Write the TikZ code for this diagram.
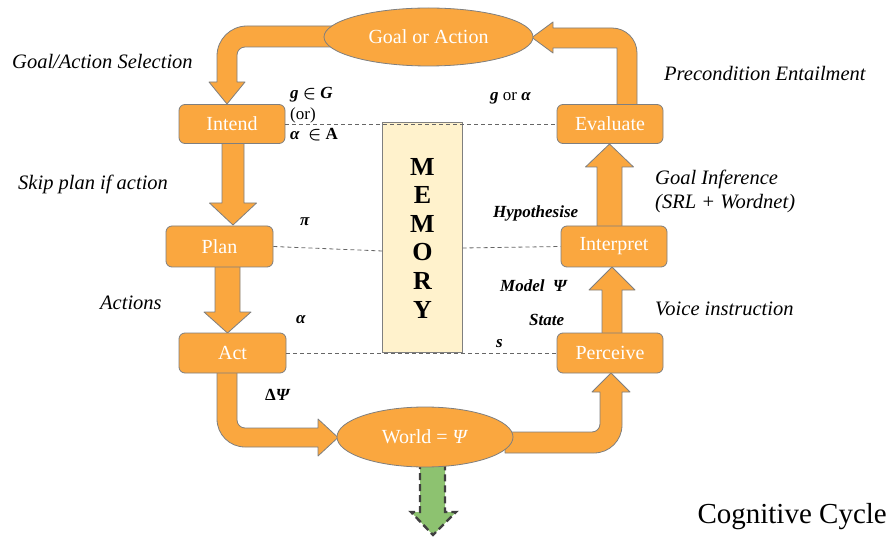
\documentclass[tikz,border=0pt]{standalone}
\usepackage{fontspec}
\setmainfont{Liberation Serif}
\usetikzlibrary{shapes.geometric,calc}
\definecolor{orng}{HTML}{FAA73F}
\definecolor{bgray}{HTML}{7F7F7F}
\definecolor{memfill}{HTML}{FFF2CC}
\definecolor{grn}{HTML}{8DC270}
\definecolor{dgray}{HTML}{404040}
\newcommand{\fs}[1]{\fontsize{#1}{#1}\selectfont}
\newcommand{\bin}{{\boldmath$\in$}}
\newcommand{\vblock}[6]{\draw[blk] ({#1-#5},#2) -- ({#1-#5},#3) -- ({#1-#6},#3) -- (#1,#4) -- ({#1+#6},#3) -- ({#1+#5},#3) -- ({#1+#5},#2) -- cycle;}
\begin{document}
\begin{tikzpicture}[x=1pt,y=-1pt,
  blk/.style={fill=orng,draw=bgray,line width=0.8pt,line join=round},
  stepbox/.style={rectangle,rounded corners=6pt,fill=orng,draw=bgray,line width=0.8pt,text=white,font=\fs{20},inner sep=0pt},
  oval/.style={ellipse,fill=orng,draw=bgray,line width=0.8pt,text=white,font=\fs{20},inner sep=0pt},
  dline/.style={draw=black!60,line width=0.8pt,dash pattern=on 4pt off 3pt},
  itl/.style={font=\fs{20.5}\itshape,anchor=west,inner sep=0pt},
  bil/.style={font=\fs{17}\bfseries\itshape,anchor=west,inner sep=0pt},
]
\useasboundingbox (0,0) rectangle (891,537);
\fill[white] (0,0) rectangle (891,537);

% block arrows (drawn under the nodes)
\draw[blk] (335,26) -- (247,26) .. controls (230.4,26) and (217,39.4) .. (217,56) -- (217,82) -- (209,82) -- (227,104) -- (245,82) -- (237,82) -- (237,55) .. controls (237,50.6) and (240.6,47) .. (245,47) -- (335,47) -- cycle;
\draw[blk] (617,108) -- (617,48) -- (553,48) -- (553,53) -- (532,37.5) -- (553,22) -- (553,28) -- (612,28) .. controls (625.8,28) and (637,39.2) .. (637,53) -- (637,108) -- cycle;
\vblock{233}{140}{203}{225}{11}{23.5}
\vblock{227.5}{264}{312}{333}{12.5}{23.5}
\draw[blk] (217,370) -- (217,419) .. controls (217,434.5) and (229.5,447) .. (245,447) -- (318,447) -- (318,456) -- (338,437.5) -- (318,419) -- (318,428) -- (245,428) .. controls (240.6,428) and (237,424.4) .. (237,420) -- (237,370) -- cycle;
\draw[blk] (505,432) -- (592,432) .. controls (596.4,432) and (600,428.4) .. (600,424) -- (600,392) -- (592,392) -- (611,373) -- (630,392) -- (622,392) -- (622,425) .. controls (622,440.5) and (609.5,453) .. (594,453) -- (505,453) -- cycle;
\vblock{612}{336}{290}{267}{10}{23}
\vblock{609.5}{229}{167}{144}{12.5}{24}

% green dashed arrow
\draw[fill=grn,draw=dgray,line width=2.4pt,dash pattern=on 7pt off 4pt,line join=miter] (420,462) -- (420,512) -- (411,512) -- (433,535) -- (456,512) -- (445,512) -- (445,462) -- cycle;

% nodes
\node[oval,minimum width=209pt,minimum height=58pt] (goal) at (428.5,37) {Goal or Action};
\node[oval,minimum width=176pt,minimum height=60pt] (world) at (425,437) {World = \textit{Ψ}};
\node[stepbox,minimum width=106pt,minimum height=39pt] (intend) at (232,124) {Intend};
\node[stepbox,minimum width=106pt,minimum height=39pt] (eval) at (610,124) {Evaluate};
\node[stepbox,minimum width=107pt,minimum height=41pt] (plan) at (219.5,246.5) {Plan};
\node[stepbox,minimum width=107pt,minimum height=40pt] (act) at (232.5,353) {Act};
\node[stepbox,minimum width=106pt,minimum height=41pt] (interp) at (614,246.5) {Interpret};
\node[stepbox,minimum width=106pt,minimum height=40pt] (perc) at (610,353) {Perceive};
\node[rectangle,fill=memfill,draw=bgray,line width=0.8pt,minimum width=80pt,minimum height=230pt,inner sep=0pt] (mem) at (422.5,237) {};
\node[font=\fontsize{26}{28.6}\selectfont\bfseries,align=center,inner sep=0pt] (memtxt) at (422.5,238) {M\\E\\M\\O\\R\\Y};

% dashed links
\coordinate (mplan) at (382.5,251);
\coordinate (mint) at (462.5,248);
\draw[dline] (intend.east) -- (eval.west);
\draw[dline] (plan.east) -- (mplan);
\draw[dline] (mint) -- (interp.west);
\draw[dline] (act.east) -- (perc.west);

% small labels
\node[bil] (lg) at (290,95) {g \bin\ G};
\node[font=\fs{17},anchor=west,inner sep=0pt] (lor) at (290,115) {(or)};
\node[bil] (la) at (290,135) {α\ \ \bin\ \upshape A};
\node[bil] (lgora) at (490,98) {g \normalfont or \bfseries\itshape α};
\node[bil] (lpi) at (300,222) {π};
\node[bil] (lal) at (296,320) {α};
\node[bil] (ldp) at (265,395) {\upshape Δ\itshape Ψ};
\node[bil] (lhyp) at (493,213) {Hypothesise};
\node[bil] (lmod) at (500,286) {Model\ \ Ψ};
\node[bil] (lst) at (529,320) {State};
\node[bil] (ls) at (496,344) {s};

% side labels
\node[itl] (t1) at (12,61) {Goal/Action Selection};
\node[itl] (t2) at (18,184) {Skip plan if action};
\node[itl] (t3) at (100,303) {Actions};
\node[itl] (t4) at (664,73) {Precondition Entailment};
\node[itl,align=left,font=\fontsize{20.5}{24}\selectfont\itshape] (t5) at (655,191) {Goal Inference\\(SRL + Wordnet)};
\node[itl] (t6) at (655,309) {Voice instruction};
\node[font=\fs{29},anchor=east,inner sep=0pt] (title) at (887,517) {Cognitive Cycle};
\end{tikzpicture}
\end{document}
